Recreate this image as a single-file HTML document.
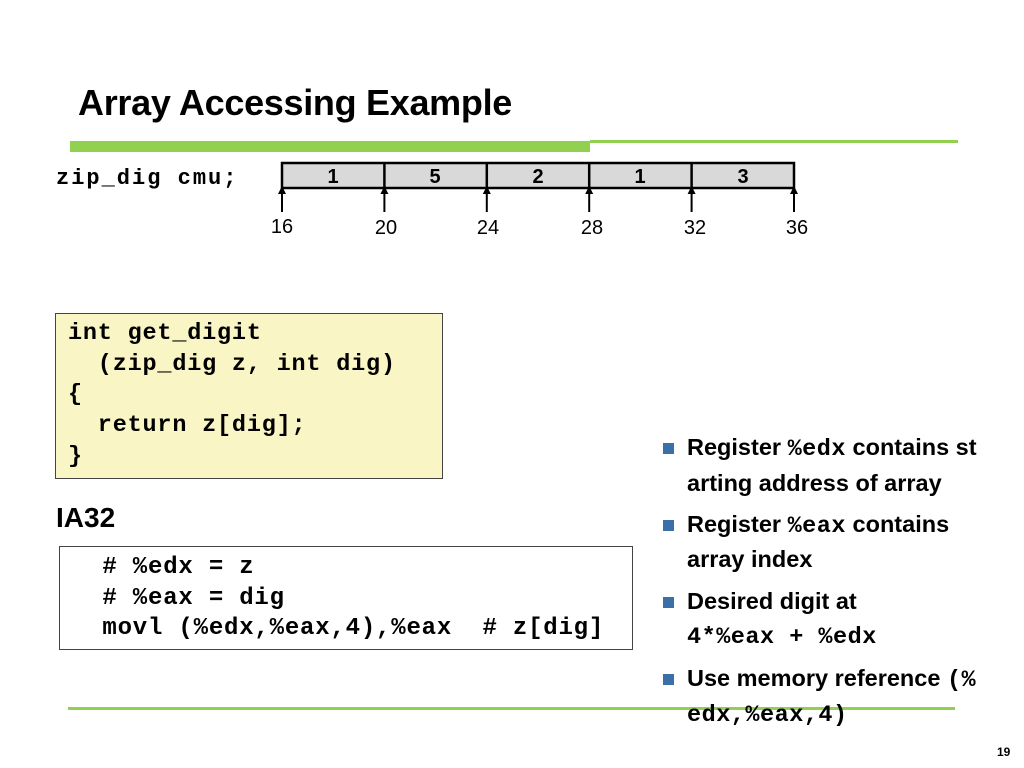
<!DOCTYPE html>
<html><head><meta charset="utf-8"><style>
body{margin:0;width:1024px;height:768px;background:#fff;position:relative;overflow:hidden;font-family:"Liberation Sans",sans-serif;}
.a{position:absolute;white-space:nowrap;}
.mono{font-family:"Liberation Mono",monospace;font-weight:bold;}
.b{font-weight:bold;}
.bul{position:absolute;left:663px;width:11px;height:11px;background:#3a6fa8;}
.bt{position:absolute;left:687px;font-weight:bold;font-size:23.5px;white-space:nowrap;letter-spacing:0px;}
.bt .m{font-family:"Liberation Mono",monospace;font-size:23.5px;letter-spacing:0.5px;}
</style></head><body>
<div class="a b" style="left:78px;top:82px;font-size:36px;letter-spacing:-0.3px;">Array Accessing Example</div>
<div class="a" style="left:70px;top:141px;width:520px;height:11px;background:#92d050;"></div>
<div class="a" style="left:590px;top:140px;width:368px;height:3px;background:#92d050;"></div>

<div class="a mono" style="left:56px;top:166px;font-size:22px;letter-spacing:2px;">zip_dig cmu;</div>
<svg class="a" style="left:0;top:0" width="1024" height="260">
<rect x="282" y="163" width="512" height="25" fill="#d9d9d9" stroke="#000" stroke-width="2.5"/>
<g stroke="#000" stroke-width="2.5">
<line x1="384.4" y1="163" x2="384.4" y2="188"/><line x1="486.8" y1="163" x2="486.8" y2="188"/>
<line x1="589.2" y1="163" x2="589.2" y2="188"/><line x1="691.6" y1="163" x2="691.6" y2="188"/>
</g>
<g font-family="Liberation Sans" font-weight="bold" font-size="20" text-anchor="middle">
<text x="333" y="183">1</text><text x="435" y="183">5</text><text x="538" y="183">2</text><text x="640" y="183">1</text><text x="743" y="183">3</text>
</g>
<g stroke="#000" stroke-width="2">
<line x1="282" y1="192" x2="282" y2="212"/><line x1="384.4" y1="192" x2="384.4" y2="212"/><line x1="486.8" y1="192" x2="486.8" y2="212"/><line x1="589.2" y1="192" x2="589.2" y2="212"/><line x1="691.6" y1="192" x2="691.6" y2="212"/><line x1="794" y1="192" x2="794" y2="212"/>
</g>
<g fill="#000">
<polygon points="278,194 286,194 282,186"/><polygon points="380.4,194 388.4,194 384.4,186"/><polygon points="482.8,194 490.8,194 486.8,186"/><polygon points="585.2,194 593.2,194 589.2,186"/><polygon points="687.6,194 695.6,194 691.6,186"/><polygon points="790,194 798,194 794,186"/>
</g>
<g font-family="Liberation Sans" font-size="20" text-anchor="middle">
<text x="282" y="233">16</text><text x="386" y="234">20</text><text x="488" y="234">24</text><text x="592" y="234">28</text><text x="695" y="234">32</text><text x="797" y="234">36</text>
</g>
</svg>

<div class="a" style="left:55px;top:313px;width:386px;height:164px;background:#f9f5c4;border:1.5px solid #444;"></div>
<div class="a mono" style="left:68px;top:319px;font-size:23.5px;line-height:30.7px;white-space:pre;letter-spacing:0.8px;">int get_digit
  (zip_dig z, int dig)
{
  return z[dig];
}</div>

<div class="a b" style="left:56px;top:502px;font-size:28px;">IA32</div>
<div class="a" style="left:59px;top:546px;width:572px;height:102px;background:#fff;border:1.5px solid #444;"></div>
<div class="a mono" style="left:72px;top:553px;font-size:24px;line-height:30.5px;white-space:pre;letter-spacing:0.8px;">  # %edx = z
  # %eax = dig
  movl (%edx,%eax,4),%eax  # z[dig]</div>

<div class="bul" style="top:443px"></div>
<div class="bt" style="top:434px">Register <span class="m">%edx</span> contains st</div>
<div class="bt" style="top:470px">arting address of array</div>
<div class="bul" style="top:520px"></div>
<div class="bt" style="top:511px">Register <span class="m">%eax</span> contains</div>
<div class="bt" style="top:546px">array index</div>
<div class="bul" style="top:597px"></div>
<div class="bt" style="top:588px">Desired digit at</div>
<div class="bt" style="top:622px"><span class="m">4*%eax + %edx</span></div>
<div class="bul" style="top:674px"></div>
<div class="a" style="left:68px;top:707px;width:887px;height:3px;background:#92d050;"></div>
<div class="bt" style="top:665px">Use memory reference <span class="m">(%</span></div>
<div class="bt" style="top:700px"><span class="m">edx,%eax,4)</span></div>

<div class="a b" style="left:997px;top:745px;font-size:12px;">19</div>
</body></html>
